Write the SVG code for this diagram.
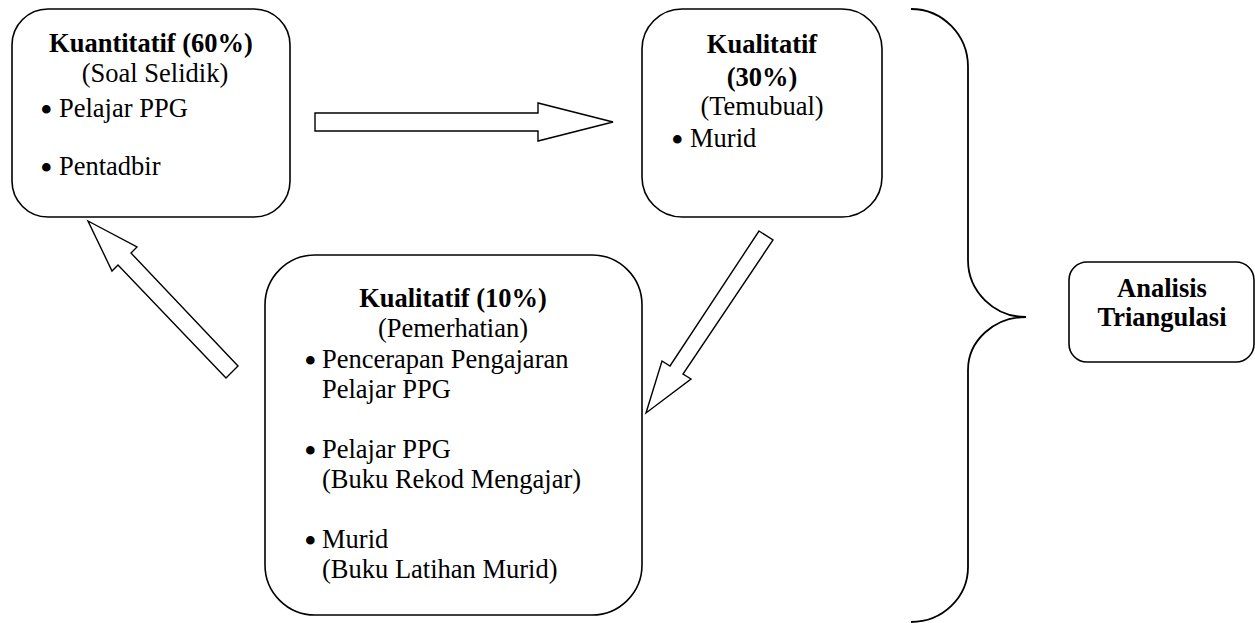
<svg xmlns="http://www.w3.org/2000/svg" width="1255" height="623" viewBox="0 0 1255 623">
<style>
.box{fill:#fff;stroke:#000;stroke-width:1.6}
.arr{fill:#fff;stroke:#000;stroke-width:1.4;stroke-linejoin:miter}
.brace{fill:none;stroke:#000;stroke-width:1.8}
text{font-family:"Liberation Serif","Times New Roman",serif;font-size:26.5px;fill:#000}
.b{font-weight:bold}
.m{text-anchor:middle}
.bul{font-size:36px}
</style>
<rect width="1255" height="623" fill="#fff"/>
<g id="connectors">
<polygon class="arr" points="315,113 538,113 538,103 613,122 538,141 538,131 315,131"/>
<polygon class="arr" points="759,231 773,240 683,374 691,379 646,413 662,361 670,366"/>
<polygon class="arr" points="88,221 137,247 131,253 238,366 226,378 118,265 112,271"/>
<path class="brace" d="M911 9 A57 58 0 0 1 968 67 L968 260 A58 57 0 0 0 1026 317 A58 53 0 0 0 968 370 L968 567 A57 55 0 0 1 911 622"/>
</g>
<g id="kuantitatif">
<rect class="box" x="12" y="9" width="278" height="208" rx="36"/>
<text class="b m" x="151" y="52">Kuantitatif (60%)</text>
<text class="m" x="155" y="82">(Soal Selidik)</text>
<text class="bul" x="40" y="122">•</text><text x="59" y="117">Pelajar PPG</text>
<text class="bul" x="40" y="180">•</text><text x="59" y="175">Pentadbir</text>
</g>
<g id="kualitatif30">
<rect class="box" x="642" y="9" width="240" height="208" rx="40"/>
<text class="b m" x="762" y="53">Kualitatif</text>
<text class="b m" x="762" y="86">(30%)</text>
<text class="m" x="762" y="115">(Temubual)</text>
<text class="bul" x="671" y="152">•</text><text x="690" y="147">Murid</text>
</g>
<g id="kualitatif10">
<rect class="box" x="265" y="255" width="377" height="360" rx="50"/>
<text class="b m" x="453" y="307">Kualitatif (10%)</text>
<text class="m" x="453" y="337">(Pemerhatian)</text>
<text class="bul" x="304" y="373">•</text><text x="322" y="368">Pencerapan Pengajaran</text>
<text x="322" y="398">Pelajar PPG</text>
<text class="bul" x="304" y="463">•</text><text x="322" y="458">Pelajar PPG</text>
<text x="322" y="488">(Buku Rekod Mengajar)</text>
<text class="bul" x="304" y="553">•</text><text x="322" y="548">Murid</text>
<text x="322" y="578">(Buku Latihan Murid)</text>
</g>
<g id="analisis">
<rect class="box" x="1069" y="262" width="185" height="100" rx="18"/>
<text class="b m" x="1162" y="297">Analisis</text>
<text class="b m" x="1162" y="326">Triangulasi</text>
</g>
</svg>
